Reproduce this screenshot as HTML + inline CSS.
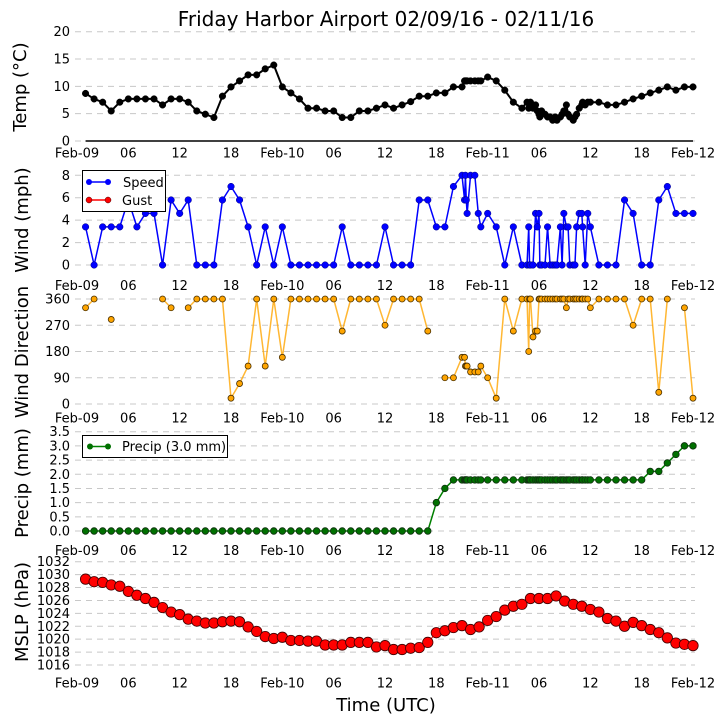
<!DOCTYPE html>
<html><head><meta charset="utf-8">
<style>
html,body{margin:0;padding:0;background:#fff;}
svg{display:block;font-family:"DejaVu Sans","Liberation Sans",sans-serif;}
</style></head>
<body>
<svg id="chart" width="725" height="725" viewBox="0 0 725 725">
<text x="386" y="26" font-size="20" text-anchor="middle">Friday Harbor Airport 02/09/16 - 02/11/16</text>
<text x="386" y="711" font-size="18" text-anchor="middle">Time (UTC)</text>
</svg>
<script>
const xTickLabels = ["Feb-09","06","12","18","Feb-10","06","12","18","Feb-11","06","12","18","Feb-12"];
const times = [1,2,3,4,5,6,7,8,9,10,11,12,13,14,15,16,17,18,19,20,21,22,23,24,25,26,27,28,29,30,31,32,33,34,35,36,37,38,39,40,41,42,43,44,
45,45.3,45.4,45.5,45.6,46,46.5,46.9,47.2,
48,49,50,51,52,
52.6,52.8,52.9,53.0,53.3,53.6,53.8,54.0,54.1,54.3,54.7,55.0,55.3,55.6,55.9,56.1,56.5,56.7,56.9,57.2,57.4,57.6,58.0,58.2,58.4,58.7,59.0,59.1,59.4,59.7,60.0,
61,62,63,64,65,66,67,68,69,70,71,72];
const temp = [8.7,7.7,7.1,5.5,7.1,7.7,7.7,7.7,7.7,6.6,7.7,7.7,7.1,5.5,4.9,4.3,8.2,9.9,11,12.1,12.1,13.2,13.9,9.9,8.8,7.7,6.0,6.0,5.5,5.5,4.3,4.3,5.5,5.5,6.0,6.6,6.0,6.6,7.2,8.2,8.2,8.8,8.8,9.9,
9.9,11,11,11,11,11,11,11,11,
11.7,11,9.3,7.1,6.0,
7.1,6.0,6.6,7.1,6.0,6.6,5.5,4.9,4.4,5.5,4.9,4.4,4.4,3.8,4.4,3.8,4.4,4.9,5.5,6.6,4.9,4.4,3.8,4.4,4.9,6.0,6.6,7.1,6.6,7.1,7.1,
7.1,6.6,6.6,7.1,7.7,8.2,8.8,9.3,9.9,9.3,9.9,9.9];
const wind = [3.4,0,3.4,3.4,3.4,5.8,3.4,4.6,4.6,0,5.8,4.6,5.8,0,0,0,5.8,7,5.8,3.4,0,3.4,0,3.4,0,0,0,0,0,0,3.4,0,0,0,0,3.4,0,0,0,5.8,5.8,3.4,3.4,7,
8,5.8,8,5.8,4.6,8,8,4.6,3.4,
4.6,3.4,0,3.4,0,
0,3.4,0,0,0,4.6,3.4,4.6,0,0,0,3.4,0,0,0,0,3.4,0,4.6,3.4,3.4,0,0,0,3.4,4.6,4.6,3.4,0,4.6,3.4,
0,0,0,5.8,4.6,0,0,5.8,7,4.6,4.6,4.6];
const dir = [330,360,null,290,null,null,null,null,null,360,330,null,330,360,360,360,360,20,70,130,360,130,360,160,360,360,360,360,360,360,250,360,360,360,360,270,360,360,360,360,250,null,90,90,
160,160,130,130,130,110,110,110,130,
90,20,360,250,360,
360,180,360,360,230,250,250,360,360,360,360,360,360,360,360,360,360,360,360,330,360,360,360,360,360,360,360,360,360,360,330,
360,360,360,360,270,360,360,40,360,null,330,20];
const precip = [0,0,0,0,0,0,0,0,0,0,0,0,0,0,0,0,0,0,0,0,0,0,0,0,0,0,0,0,0,0,0,0,0,0,0,0,0,0,0,0,0,1.0,1.5,1.8,
1.8,1.8,1.8,1.8,1.8,1.8,1.8,1.8,1.8,
1.8,1.8,1.8,1.8,1.8,
1.8,1.8,1.8,1.8,1.8,1.8,1.8,1.8,1.8,1.8,1.8,1.8,1.8,1.8,1.8,1.8,1.8,1.8,1.8,1.8,1.8,1.8,1.8,1.8,1.8,1.8,1.8,1.8,1.8,1.8,1.8,
1.8,1.8,1.8,1.8,1.8,1.8,2.1,2.1,2.4,2.7,3.0,3.0];
const mslpTimes = [1,2,3,4,5,6,7,8,9,10,11,12,13,14,15,16,17,18,19,20,21,22,23,24,25,26,27,28,29,30,31,32,33,34,35,36,37,38,39,40,41,42,43,44,45,46,47,48,49,50,51,52,53,54,55,56,57,58,59,60,61,62,63,64,65,66,67,68,69,70,71,72];
const mslp = [1029.3,1028.9,1028.8,1028.4,1028.2,1027.4,1026.8,1026.3,1025.7,1024.9,1024.2,1023.8,1023.1,1022.8,1022.5,1022.5,1022.7,1022.8,1022.7,1021.9,1021.2,1020.4,1020.1,1020.3,1019.8,1019.8,1019.7,1019.7,1019.1,1019.1,1019.1,1019.5,1019.5,1019.5,1018.8,1019.0,1018.4,1018.4,1018.6,1018.7,1019.5,1021.0,1021.3,1021.8,1022.1,1021.5,1021.9,1022.9,1023.5,1024.5,1025.1,1025.4,1026.3,1026.3,1026.3,1026.7,1025.9,1025.4,1025.1,1024.6,1024.2,1023.2,1022.8,1022.0,1022.6,1022.1,1021.5,1021.0,1020.2,1019.4,1019.2,1019.0];
const tempTicks = [0,5,10,15,20];
const windTicks = [0,2,4,6,8];
const dirTicks = [0,90,180,270,360];
const precipTicks = [0,0.5,1,1.5,2,2.5,3,3.5];
const mslpTicks = [1016,1018,1020,1022,1024,1026,1028,1030,1032];

const NS = "http://www.w3.org/2000/svg";
const svg = document.getElementById("chart");
function mk(tag, attrs, parent){
  const e = document.createElementNS(NS, tag);
  for (const k in attrs) e.setAttribute(k, attrs[k]);
  (parent||svg).appendChild(e);
  return e;
}
const X0 = 77, X1 = 693;
function xScale(h){ return X0 + (X1 - X0) * h / 72; }
function yScaleFactory(vmin, vmax, pmin, pmax){ return v => pmin + (v - vmin) * (pmax - pmin) / (vmax - vmin); }

function panel(cfg){
  const g = mk("g", {});
  
  
  const y = yScaleFactory(cfg.vmin, cfg.vmax, cfg.pmin, cfg.pmax);
  cfg.ticks.forEach(t => {
    const gl = mk("line", {x1:75, x2:695, y1:y(t), y2:y(t), stroke:"#c8c8c8", "stroke-width":1, "stroke-dasharray":"6,5"}, g);
    
    
    const tl = mk("text", {x:70, y:y(t)+4.5, "font-size":13, "text-anchor":"end"}, g);
    tl.textContent = cfg.fmt(t);
    
    
  });
  xTickLabels.forEach((lab, i) => {
    const tx = mk("text", {x:xScale(i*6), y:cfg.xlab+4.5, "font-size":13, "text-anchor":"middle"}, g);
    tx.textContent = lab;
    
    
  });
  const yt = mk("text", {x:0, y:0, "font-size":18, "text-anchor":"middle", transform:`translate(${cfg.labX},${cfg.labY}) rotate(-90)`}, g);
  yt.textContent = cfg.label;
  
  
  return {g, y};
}
function series(p, ts, vals, st, name){
  let d = "", pen = false;
  ts.forEach((t, i) => {
    const v = vals[i];
    if (v === null) { pen = false; return; }
    d += (pen ? "L" : "M") + xScale(t).toFixed(2) + "," + p.y(v).toFixed(2);
    pen = true;
  });
  const path = mk("path", {d, fill:"none", stroke:st.line, "stroke-width":st.lw, "stroke-opacity":st.lo||1, "stroke-linejoin":"round"}, p.g);
  
  
  ts.forEach((t, i) => {
    const v = vals[i];
    if (v === null) return;
    const c = mk("circle", {cx:xScale(t), cy:p.y(v), r:st.r, fill:st.fill, stroke:st.edge, "stroke-width":st.ew}, p.g);
    
    
  });
}

const pT = panel({name:"temperature-panel", vmin:0, vmax:20, pmin:141, pmax:31.7, ticks:tempTicks, fmt:t=>String(t), xlab:153, label:"Temp (\u00B0C)", labX:26, labY:87});
const zl = mk("line", {x1:xScale(1), x2:xScale(72), y1:141, y2:141, stroke:"#000", "stroke-width":1.5}, pT.g);


series(pT, times, temp, {line:"#000", lw:2, r:3.3, fill:"#000", edge:"#000", ew:0.5}, "temp");

const pW = panel({name:"wind-panel", vmin:0, vmax:8, pmin:265, pmax:175.3, ticks:windTicks, fmt:t=>String(t), xlab:285.7, label:"Wind (mph)", labX:28, labY:220});
series(pW, times, wind, {line:"#0000ff", lw:1.5, r:3.3, fill:"#0000ff", edge:"#000080", ew:0.5}, "wind-speed");

const pD = panel({name:"wind-direction-panel", vmin:0, vmax:360, pmin:404, pmax:299, ticks:dirTicks, fmt:t=>String(t), xlab:418, label:"Wind Direction", labX:28, labY:352});
series(pD, times, dir, {line:"#ffa500", lw:1.5, lo:0.8, r:3, fill:"#ffa500", edge:"#4a3000", ew:0.8}, "wind-direction");

const pP = panel({name:"precip-panel", vmin:0, vmax:3.5, pmin:531, pmax:431.7, ticks:precipTicks, fmt:t=>t.toFixed(1), xlab:550.7, label:"Precip (mm)", labX:28, labY:483});
series(pP, times, precip, {line:"#008000", lw:1.5, r:3.3, fill:"#007000", edge:"#103010", ew:0.8}, "precip");

const pM = panel({name:"mslp-panel", vmin:1016, vmax:1032, pmin:665, pmax:561.7, ticks:mslpTicks, fmt:t=>String(t), xlab:683, label:"MSLP (hPa)", labX:28, labY:612});
series(pM, mslpTimes, mslp, {line:"#ff0000", lw:1, r:5.2, fill:"#ff0000", edge:"#400000", ew:0.8}, "mslp");

// Wind legend
const lg = mk("g", {});


mk("rect", {x:82.5, y:170.5, width:83, height:41, fill:"#fff", stroke:"#000", "stroke-width":1}, lg);
mk("line", {x1:89, x2:108, y1:182, y2:182, stroke:"#0000ff", "stroke-width":1.5}, lg);
mk("circle", {cx:89, cy:182, r:3, fill:"#0000ff"}, lg);
mk("circle", {cx:108, cy:182, r:3, fill:"#0000ff"}, lg);
const ls = mk("text", {x:123, y:187, "font-size":13}, lg); ls.textContent = "Speed";


mk("line", {x1:89, x2:108, y1:200, y2:200, stroke:"#ff0000", "stroke-width":1.5}, lg);
mk("circle", {cx:89, cy:200, r:3, fill:"#ff0000", stroke:"#400000", "stroke-width":0.5}, lg);
mk("circle", {cx:108, cy:200, r:3, fill:"#ff0000", stroke:"#400000", "stroke-width":0.5}, lg);
const lgu = mk("text", {x:122, y:205, "font-size":13}, lg); lgu.textContent = "Gust";



// Precip legend
const pl = mk("g", {});


mk("rect", {x:82.5, y:435.5, width:145, height:22, fill:"#fff", stroke:"#000", "stroke-width":1}, pl);
mk("line", {x1:90, x2:108, y1:446.5, y2:446.5, stroke:"#008000", "stroke-width":1.5}, pl);
mk("circle", {cx:90, cy:446.5, r:3, fill:"#007000"}, pl);
mk("circle", {cx:108, cy:446.5, r:3, fill:"#007000"}, pl);
const pt = mk("text", {x:122, y:451, "font-size":13}, pl); pt.textContent = "Precip (3.0 mm)";


</script>
</body></html>
